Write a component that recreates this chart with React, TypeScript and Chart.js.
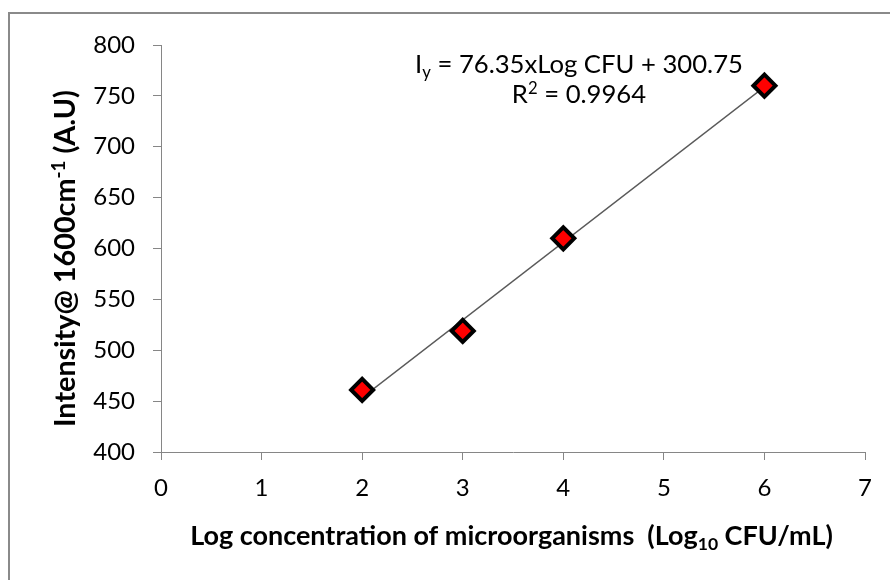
import React, { useEffect, useRef } from 'react';
import { Chart, registerables } from 'chart.js';

Chart.register(...registerables);

// ---- data ----
const logConcentration = [2, 3, 4, 6];
const intensityValues = [461, 519, 610, 760];
const trendlineX = [2, 6];
const trendlineY = [453.45, 758.85];
const xTickValues = [0, 1, 2, 3, 4, 5, 6, 7];
const yTickValues = [400, 450, 500, 550, 600, 650, 700, 750, 800];

type Seg = { t: string; k?: 'sub' | 'sup' };
const xTitleSegs: Seg[] = [
  { t: 'Log concentration of microorganisms  (Log' },
  { t: '10', k: 'sub' },
  { t: ' CFU/mL)' },
];
const yTitleSegs: Seg[] = [
  { t: 'Intensity@ 1600cm' },
  { t: '-1', k: 'sup' },
  { t: ' (A.U)' },
];
const equationSegs: Seg[] = [
  { t: 'I' },
  { t: 'y', k: 'sub' },
  { t: ' = 76.35xLog CFU + 300.75' },
];
const r2Segs: Seg[] = [{ t: 'R' }, { t: '2', k: 'sup' }, { t: ' = 0.9964' }];

const FAMILY = 'Lato, "Open Sans", sans-serif';

function setFont(ctx: CanvasRenderingContext2D, size: number, weight: string) {
  ctx.font = `${weight} ${size}px ${FAMILY}`;
}

function richWidth(ctx: CanvasRenderingContext2D, segs: Seg[], size: number, weight: string) {
  let w = 0;
  for (const s of segs) {
    setFont(ctx, s.k ? size * 0.65 : size, weight);
    w += ctx.measureText(s.t).width;
  }
  return w;
}

function drawRich(
  ctx: CanvasRenderingContext2D,
  segs: Seg[],
  cx: number,
  baseline: number,
  size: number,
  weight: string
) {
  const total = richWidth(ctx, segs, size, weight);
  let x = cx - total / 2;
  ctx.textAlign = 'left';
  ctx.textBaseline = 'alphabetic';
  for (const s of segs) {
    const sz = s.k ? size * 0.65 : size;
    setFont(ctx, sz, weight);
    const dy = s.k === 'sub' ? size * 0.2 : s.k === 'sup' ? -size * 0.36 : 0;
    ctx.fillText(s.t, x, baseline + dy);
    x += ctx.measureText(s.t).width;
  }
}

function fitSize(ctx: CanvasRenderingContext2D, segs: Seg[], target: number, weight: string) {
  const w = richWidth(ctx, segs, 100, weight);
  return (100 * target) / w;
}

const decorPlugin = {
  id: 'decor',
  afterDraw(chart: Chart) {
    const ctx = chart.ctx;
    ctx.save();
    // outer frame
    ctx.fillStyle = '#8a8a8a';
    ctx.fillRect(8, 12, 2, 600);
    ctx.fillRect(8, 12, 900, 2);

    ctx.fillStyle = '#000';
    // x title
    const xs = fitSize(ctx, xTitleSegs, 643, 'bold');
    drawRich(ctx, xTitleSegs, 511.5, 545, xs, 'bold');

    // y title
    const ys = fitSize(ctx, yTitleSegs, 337, 'bold');
    ctx.save();
    ctx.translate(75, 258.5);
    ctx.rotate(-Math.PI / 2);
    drawRich(ctx, yTitleSegs, 0, 0, ys, 'bold');
    ctx.restore();

    // equation
    const es = fitSize(ctx, equationSegs, 328, 'normal');
    drawRich(ctx, equationSegs, 579, 73, es, 'normal');
    drawRich(ctx, r2Segs, 579, 103, es, 'normal');
    ctx.restore();
  },
};

export default function App() {
  const ref = useRef<HTMLCanvasElement | null>(null);

  useEffect(() => {
    if (!ref.current) return;
    const axisColor = '#868686';
    const chart = new Chart(ref.current, {
      type: 'scatter',
      data: {
        datasets: [
          {
            label: 'Intensity',
            data: logConcentration.map((x, i) => ({ x, y: intensityValues[i] })),
            pointStyle: 'rectRot',
            pointRadius: 11,
            pointHoverRadius: 11,
            pointBackgroundColor: '#ff0000',
            pointBorderColor: '#000000',
            pointBorderWidth: 4,
            showLine: false,
          },
          {
            label: 'Trend',
            type: 'line',
            data: trendlineX.map((x, i) => ({ x, y: trendlineY[i] })),
            borderColor: '#5a5a5a',
            borderWidth: 1.3,
            pointRadius: 0,
            fill: false,
          },
        ],
      },
      options: {
        responsive: false,
        animation: false,
        events: [],
        layout: { padding: { top: 45, right: 25, left: 0, bottom: 0 } },
        plugins: {
          legend: { display: false },
          tooltip: { enabled: false },
          title: { display: false },
        },
        scales: {
          x: {
            type: 'linear',
            min: 0,
            max: 7,
            afterFit: (s: any) => {
              s.height = 128;
            },
            afterBuildTicks: (s: any) => {
              s.ticks = xTickValues.map((v) => ({ value: v }));
            },
            grid: {
              display: true,
              drawOnChartArea: false,
              drawTicks: true,
              tickLength: 8,
              color: axisColor,
            },
            border: { display: true, color: axisColor, width: 1 },
            ticks: {
              padding: 14,
              color: '#000',
              font: { family: FAMILY, size: 24 },
              maxRotation: 0,
            },
          },
          y: {
            type: 'linear',
            min: 400,
            max: 800,
            afterFit: (s: any) => {
              s.width = 161;
            },
            afterBuildTicks: (s: any) => {
              s.ticks = yTickValues.map((v) => ({ value: v }));
            },
            grid: {
              display: true,
              drawOnChartArea: false,
              drawTicks: true,
              tickLength: 8,
              color: axisColor,
            },
            border: { display: true, color: axisColor, width: 1 },
            ticks: {
              padding: 18,
              color: '#000',
              font: { family: FAMILY, size: 24 },
            },
          },
        },
      },
      plugins: [decorPlugin],
    });
    return () => chart.destroy();
  }, []);

  return (
    <canvas
      ref={ref}
      width={890}
      height={580}
      style={{ position: 'fixed', left: 0, top: 0, width: 890, height: 580, display: 'block', background: '#fff' }}
    />
  );
}
